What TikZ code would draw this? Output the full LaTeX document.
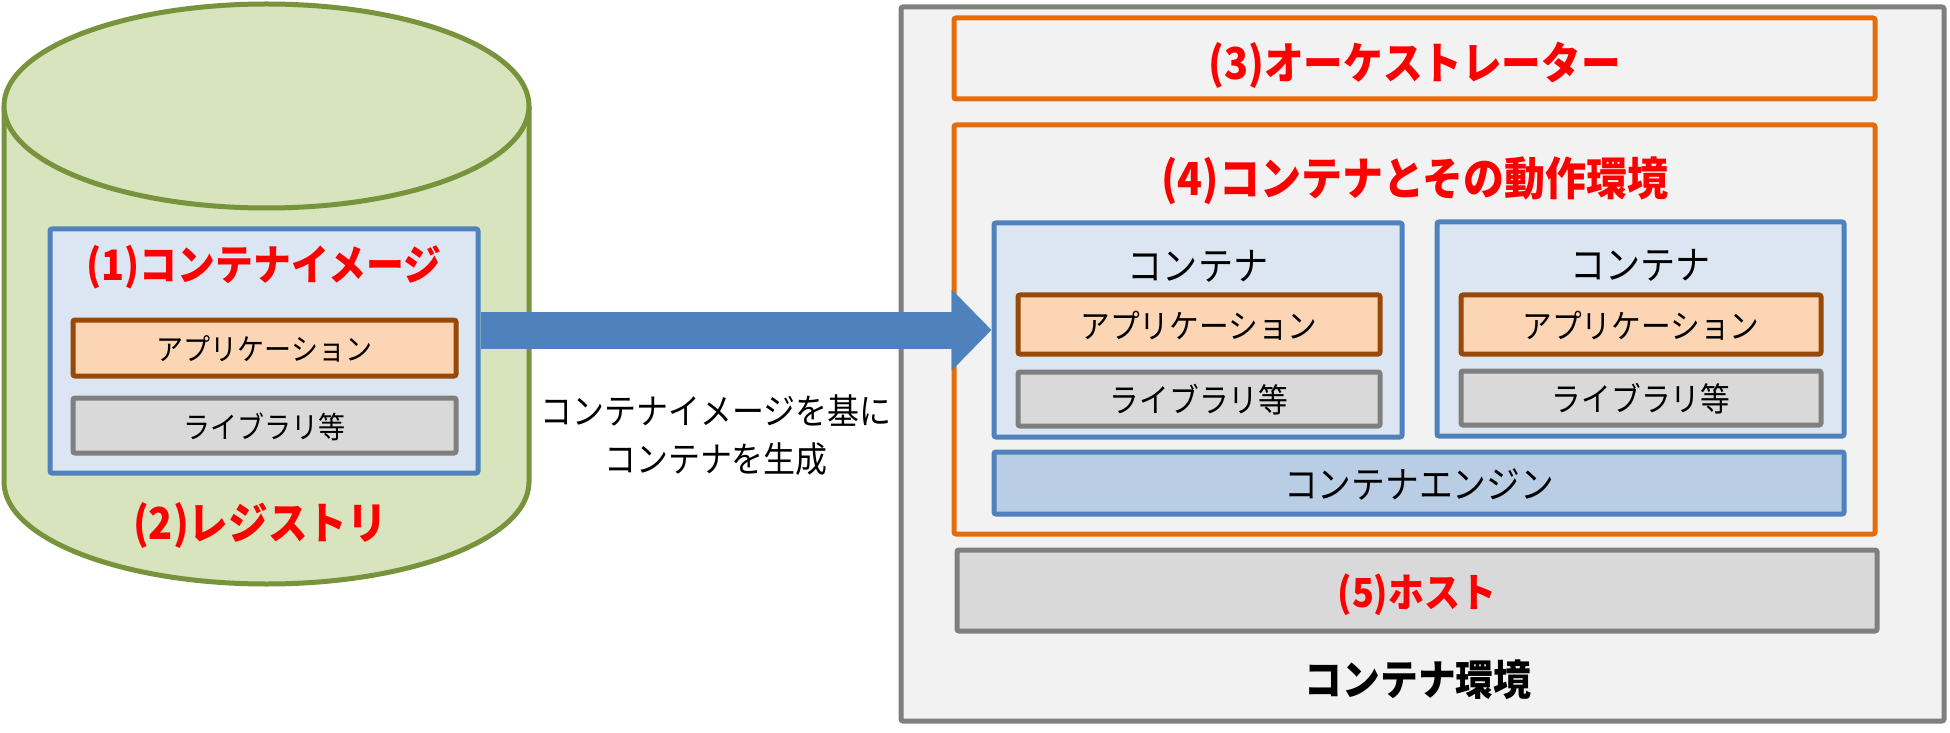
\documentclass[tikz,border=0pt]{standalone}
\usepackage{fontspec}
\setmainfont[FakeStretch=0.9]{Noto Sans CJK JP}
\usetikzlibrary{arrows.meta}
\definecolor{cylfill}{HTML}{D7E4BD}
\definecolor{cylline}{HTML}{77933C}
\definecolor{bluel}{HTML}{4F81BD}
\definecolor{bluef}{HTML}{DCE6F2}
\definecolor{engf}{HTML}{B9CDE5}
\definecolor{peach}{HTML}{FCD5B5}
\definecolor{brown}{HTML}{984807}
\definecolor{grayf}{HTML}{D9D9D9}
\definecolor{grayl}{HTML}{7F7F7F}
\definecolor{envf}{HTML}{F2F2F2}
\definecolor{orangel}{HTML}{E46C0A}
\definecolor{redt}{HTML}{FF0000}
\newcommand\fsz[1]{\fontsize{#1}{#1}\selectfont}
\begin{document}
\begin{tikzpicture}[x=1pt,y=1pt,
  base/.style={line width=5pt, rounded corners=2pt, inner sep=0pt},
  bluebox/.style={base, draw=bluel, fill=bluef},
  appbox/.style={base, draw=brown, fill=peach},
  libbox/.style={base, draw=grayl, fill=grayf},
  orabox/.style={base, draw=orangel, fill=envf},
  envbox/.style={base, draw=grayl, fill=envf},
  engbox/.style={base, draw=bluel, fill=engf},
  redtitle/.style={inner sep=0pt, text=redt, font=\bfseries\fsz{#1}},
  plain/.style={inner sep=0pt, text=black, font=\fsz{#1}}
]
\useasboundingbox (0,0) rectangle (1950,732);

% registry cylinder
\fill[cylfill] (4,626) -- (4,250) arc[start angle=180,end angle=360,x radius=262.5,y radius=102] -- (529,626) -- cycle;
\draw[cylline, line width=5pt] (4,626) -- (4,250) arc[start angle=180,end angle=360,x radius=262.5,y radius=102] -- (529,626);
\draw[cylline, fill=cylfill, line width=5pt] (266.5,626) ellipse[x radius=262.5, y radius=102];

\node[bluebox, minimum width=428, minimum height=244] (img) at (264,381) {};
\node[redtitle=42] (imgt) at (264,465) {(1)コンテナイメージ};
\node[appbox, minimum width=383, minimum height=56] (app0) at (264.5,384) {};
\node[plain=30] (app0t) at (264.5,383) {アプリケーション};
\node[libbox, minimum width=383, minimum height=55] (lib0) at (264.5,306.5) {};
\node[plain=30] (lib0t) at (264.5,305.5) {ライブラリ等};
\node[redtitle=44] (reg) at (260,206) {(2)レジストリ};

% label
\node[inner sep=0pt, align=center, font=\fontsize{35.5}{48}\selectfont] (lbl) at (716,297) {コンテナイメージを基に\\コンテナを生成};

% container environment
\node[envbox, minimum width=1043, minimum height=714] (env) at (1422.5,368) {};
\node[orabox, minimum width=921, minimum height=81] (orch) at (1414.5,673.5) {};
\node[redtitle=44] (orcht) at (1414.5,667) {(3)オーケストレーター};
\node[orabox, minimum width=921, minimum height=409] (run) at (1414.5,402.5) {};
\node[redtitle=45.5] (runt) at (1415,551) {(4)コンテナとその動作環境};

\node[bluebox, minimum width=408, minimum height=214] (c1) at (1198,402) {};
\node[plain=39] (c1t) at (1198,466) {コンテナ};
\node[appbox, minimum width=362, minimum height=59] (app1) at (1199,407.5) {};
\node[plain=33] (app1t) at (1199,406) {アプリケーション};
\node[libbox, minimum width=362, minimum height=54] (lib1) at (1199,333) {};
\node[plain=33] (lib1t) at (1199,332) {ライブラリ等};

\node[bluebox, minimum width=407, minimum height=214] (c2) at (1640.5,403) {};
\node[plain=39] (c2t) at (1640.5,467) {コンテナ};
\node[appbox, minimum width=360, minimum height=59] (app2) at (1641,407.5) {};
\node[plain=33] (app2t) at (1641,406) {アプリケーション};
\node[libbox, minimum width=360, minimum height=54] (lib2) at (1641,334) {};
\node[plain=33] (lib2t) at (1641,333) {ライブラリ等};

\node[engbox, minimum width=850, minimum height=62] (eng) at (1419,249) {};
\node[plain=37.5] (engt) at (1419,247) {コンテナエンジン};
\node[libbox, minimum width=920, minimum height=81] (host) at (1417,141.5) {};
\node[redtitle=40] (hostt) at (1417,137) {(5)ホスト};
\node[inner sep=0pt, font=\bfseries\fsz{42}] (envt) at (1418,52) {コンテナ環境};

% block arrow
\draw[bluel, line width=37pt, -{Triangle[length=40pt, width=79pt]}] (c1.west -| img.east) -- (c1.west);
\end{tikzpicture}
\end{document}
